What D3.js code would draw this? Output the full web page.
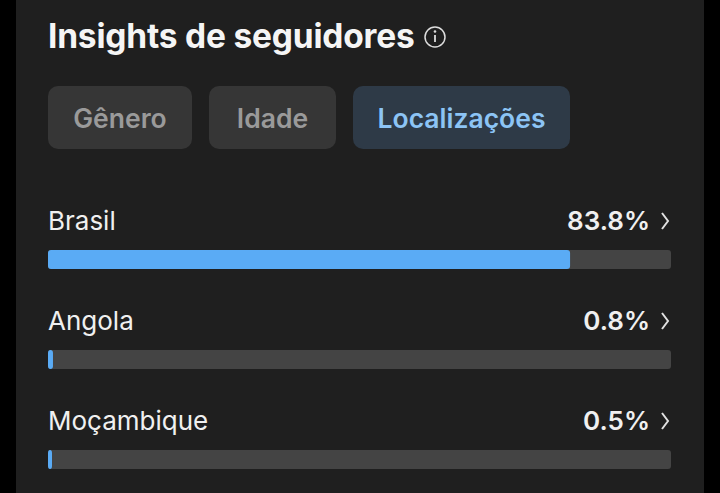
<!DOCTYPE html>
<html><head><meta charset="utf-8">
<script src="https://cdn.jsdelivr.net/npm/d3@7"></script>
<style>body{margin:0;background:#000;font-family:Inter,"Noto Sans",sans-serif;}</style>
</head><body><div id="graph"></div>
<script>
var countries = ["Brasil", "Angola", "Moçambique"];
var shares = [83.8, 0.8, 0.5];
var tabs = ["Gênero", "Idade", "Localizações"];
var activeTab = "Localizações";

var width = 720, height = 493;
var svg = d3.select("#graph").append("svg").attr("width", width).attr("height", height);
svg.append("rect").attr("x", 0).attr("y", 0).attr("width", width).attr("height", height).attr("fill", "#000");
svg.append("rect").attr("x", 16).attr("y", 0).attr("width", 688).attr("height", height).attr("fill", "#1f1f1f");

svg.append("text").attr("x", 48).attr("y", 48).attr("fill", "#f5f5f5")
    .attr("font-size", 33.5).attr("font-weight", 700).attr("letter-spacing", -0.2).text("Insights de seguidores");
// info icon
svg.append("circle").attr("cx", 435).attr("cy", 37).attr("r", 10).attr("fill", "none").attr("stroke", "#ddd").attr("stroke-width", 1.5);
svg.append("line").attr("x1", 435).attr("x2", 435).attr("y1", 35).attr("y2", 42).attr("stroke", "#ddd").attr("stroke-width", 1.8);
svg.append("circle").attr("cx", 435).attr("cy", 31.5).attr("r", 1.3).attr("fill", "#ddd");

// tabs
var tabX = [48, 209, 353], tabW = [144, 127, 217];
var tg = svg.append("g").selectAll("g").data(tabs).enter().append("g")
    .attr("transform", function(d, i) { return "translate(" + tabX[i] + ",86)"; });
tg.append("rect").attr("width", function(d, i) { return tabW[i]; }).attr("height", 63).attr("rx", 10)
    .attr("fill", function(d) { return d === activeTab ? "#2e3a47" : "#363636"; });
tg.append("text").attr("x", function(d, i) { return tabW[i] / 2; }).attr("y", 42)
    .attr("text-anchor", "middle").attr("font-size", 26.5).attr("font-weight", 600)
    .attr("fill", function(d) { return d === activeTab ? "#8cc4f5" : "#9a9a9a"; }).text(function(d) { return d; });

var x = d3.scaleLinear().domain([0, 100]).range([0, 623]);
var y = d3.scaleBand().domain(countries).range([200, 500]);

var rows = svg.append("g").selectAll("g").data(countries).enter().append("g")
    .attr("transform", function(d) { return "translate(48," + y(d) + ")"; });
rows.append("text").attr("y", 30).attr("fill", "#f0f0f0").attr("font-size", 26).text(function(d) { return d; });
rows.append("text").attr("x", 602).attr("y", 30).attr("text-anchor", "end").attr("fill", "#f0f0f0")
    .attr("font-size", 26).attr("font-weight", 600).text(function(d, i) { return shares[i] + "%"; });
rows.append("path").attr("d", "M614,13 L620,21 L614,29").attr("fill", "none").attr("stroke", "#e0e0e0").attr("stroke-width", 2);
rows.append("rect").attr("y", 50).attr("width", x(100)).attr("height", 19).attr("rx", 3).attr("fill", "#444");
rows.append("rect").attr("y", 50).attr("width", function(d, i) { return Math.max(4, x(shares[i])); })
    .attr("height", 19).attr("rx", 3).attr("fill", "#5aabf5");
</script></body></html>
